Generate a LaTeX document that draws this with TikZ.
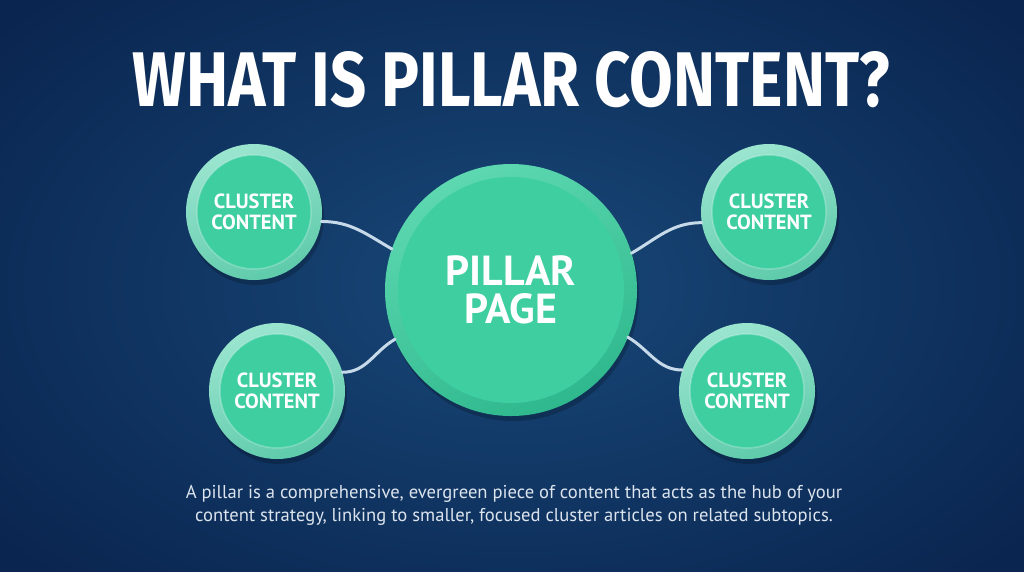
\documentclass[tikz,border=0pt]{standalone}
\usepackage{fontspec}
\setmainfont{PT Sans}
\newfontfamily\titlefont{Fira Sans}
\usetikzlibrary{shadows}
\definecolor{bgin}{HTML}{184878}
\definecolor{bgout}{HTML}{0A2550}
\definecolor{ringlight}{HTML}{9BE5CF}
\definecolor{ringdark}{HTML}{5ECBAA}
\definecolor{mint}{HTML}{3ECE9F}
\definecolor{bigringlight}{HTML}{5DD8B0}
\definecolor{bigringdark}{HTML}{2FB88D}
\definecolor{linkcol}{HTML}{C6DAE9}
\definecolor{bodytext}{HTML}{DCE4EE}
\tikzset{
  ringshadow/.style={drop shadow={opacity=0.2, fill=black, shadow xshift=2pt, shadow yshift=-5pt}},
  clusternode/.style={circle, minimum size=136pt, inner sep=0pt, outer sep=0pt, align=center,
    text=white, font=\bfseries\fontsize{20.5}{21}\selectfont,
    top color=ringlight, bottom color=ringdark, shading angle=20, ringshadow,
    path picture={\fill[mint] (path picture bounding box.center) circle (57pt);
                  \draw[white, opacity=0.25, line width=1.5pt] (path picture bounding box.center) circle (57pt);}},
  pillarnode/.style={circle, minimum size=252pt, inner sep=0pt, outer sep=0pt, align=center,
    text=white, font=\bfseries\fontsize{42}{38}\selectfont,
    top color=bigringlight, bottom color=bigringdark, shading angle=25, ringshadow,
    path picture={\fill[mint] (path picture bounding box.center) circle (113pt);}},
  link/.style={draw=linkcol, line width=3pt, line cap=round},
}
\begin{document}
\begin{tikzpicture}[x=1pt,y=-1pt]
\useasboundingbox (0,0) rectangle (1024,571);
\shade[inner color=bgin, outer color=bgout] (-150,-120) rectangle (1174,691);
\node[text=white] (title) at (511,80) {\resizebox{757pt}{55pt}{\titlefont\bfseries WHAT IS PILLAR CONTENT?}};
\node[pillarnode] (pillar) at (511,290) {PILLAR\\PAGE};
\node[clusternode] (tl) at (254,212) {CLUSTER\\CONTENT};
\node[clusternode] (tr) at (769,212) {CLUSTER\\CONTENT};
\node[clusternode] (bl) at (277,391) {CLUSTER\\CONTENT};
\node[clusternode] (br) at (747,391) {CLUSTER\\CONTENT};
\draw[link] (tl.-8) to[out=0,in=150] (pillar.161);
\draw[link] (bl.16) to[out=0,in=210] (pillar.203);
\draw[link] (pillar.17) to[out=30,in=180] (tr.189);
\draw[link] (pillar.-22) to[out=-30,in=180] (br.162);
\node[text=bodytext, align=center, font=\fontsize{18.6}{23}\selectfont] (desc) at (514,505)
  {A pillar is a comprehensive, evergreen piece of content that acts as the hub of your\\
   content strategy, linking to smaller, focused cluster articles on related subtopics.};
\end{tikzpicture}
\end{document}
